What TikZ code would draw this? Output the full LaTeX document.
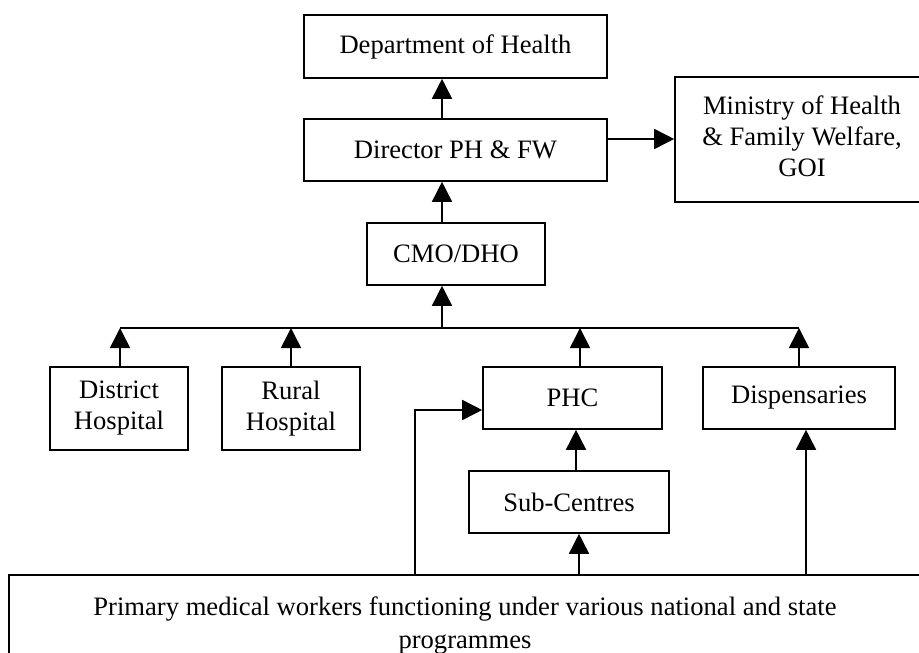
\documentclass[tikz,border=0pt]{standalone}
\usepackage{fontspec}
\setmainfont{Liberation Serif}
\usetikzlibrary{arrows.meta}
\begin{document}
\begin{tikzpicture}[x=1pt,y=-1pt,
  box/.style={draw,line width=1.6pt,inner sep=0pt,align=center,
    font=\fontsize{26.6}{31}\selectfont},
  arr/.style={line width=1.6pt,-{Triangle[length=20pt,width=20pt]}},
  link/.style={line width=1.6pt}]
\useasboundingbox (0,0) rectangle (919,653);
\clip (0,0) rectangle (919,653);

% hierarchy boxes
\node[box,minimum width=303pt,minimum height=63pt] (dept) at (455.5,46.5) {Department of Health};
\node[box,minimum width=303pt,minimum height=62pt] (dir) at (455.5,150) {Director PH \& FW};
\node[box,minimum width=254pt,minimum height=125pt] (min) at (802,139.5)
  {\raisebox{-4pt}{\begin{tabular}{@{}c@{}}Ministry of Health\\\& Family Welfare,\\GOI\end{tabular}}};
\node[box,minimum width=178pt,minimum height=62pt] (cmo) at (456,254) {CMO/DHO};
\node[box,minimum width=138pt,minimum height=83pt] (dh) at (119,408.5) {District\\Hospital};
\node[box,minimum width=138pt,minimum height=83pt] (rh) at (291,408.5) {Rural\\Hospital};
\node[box,minimum width=179pt,minimum height=62pt] (phc) at (572.5,398) {PHC};
\node[box,minimum width=192pt,minimum height=62pt] (disp) at (799,398) {Dispensaries};
\node[box,minimum width=200pt,minimum height=62pt] (sub) at (569,502) {Sub-Centres};
\node[box,minimum width=912pt,minimum height=100pt] (bot) at (465,625)
  {Primary medical workers functioning under various national and state\\[2pt]programmes};

% collecting bus below CMO/DHO
\coordinate (busL) at (120,328);
\coordinate (busR) at (799,328);
\draw[link] (busL) -- (busR);

% upward reporting lines
\draw[arr] ([xshift=-13.5pt]dir.north) -- ([xshift=-13.5pt]dept.south);
\draw[arr] ([xshift=-14pt]cmo.north) -- ([xshift=-13.5pt]dir.south);
\draw[arr] ([xshift=-14pt]cmo.south |- busL) -- ([xshift=-14pt]cmo.south);
\draw[arr] ([xshift=1pt]dh.north) -- (busL);
\draw[arr] (rh.north) -- (rh.north |- busL);
\draw[arr] ([xshift=7.5pt]phc.north) -- ([xshift=7.5pt]phc.north |- busL);
\draw[arr] (disp.north) -- (busR);
\draw[arr] ([yshift=11pt]dir.east) -- ([yshift=11pt]dir.east -| min.west);
\draw[arr] ([xshift=7pt]sub.north) -- ([xshift=3.5pt]phc.south);
\draw[arr] ([xshift=114pt]bot.north) -- ([xshift=10pt]sub.south);
\draw[arr] ([xshift=341pt]bot.north) -- ([xshift=7pt]disp.south);
\draw[arr] ([xshift=-50pt]bot.north) |- ([yshift=-12pt]phc.west);
\end{tikzpicture}
\end{document}
